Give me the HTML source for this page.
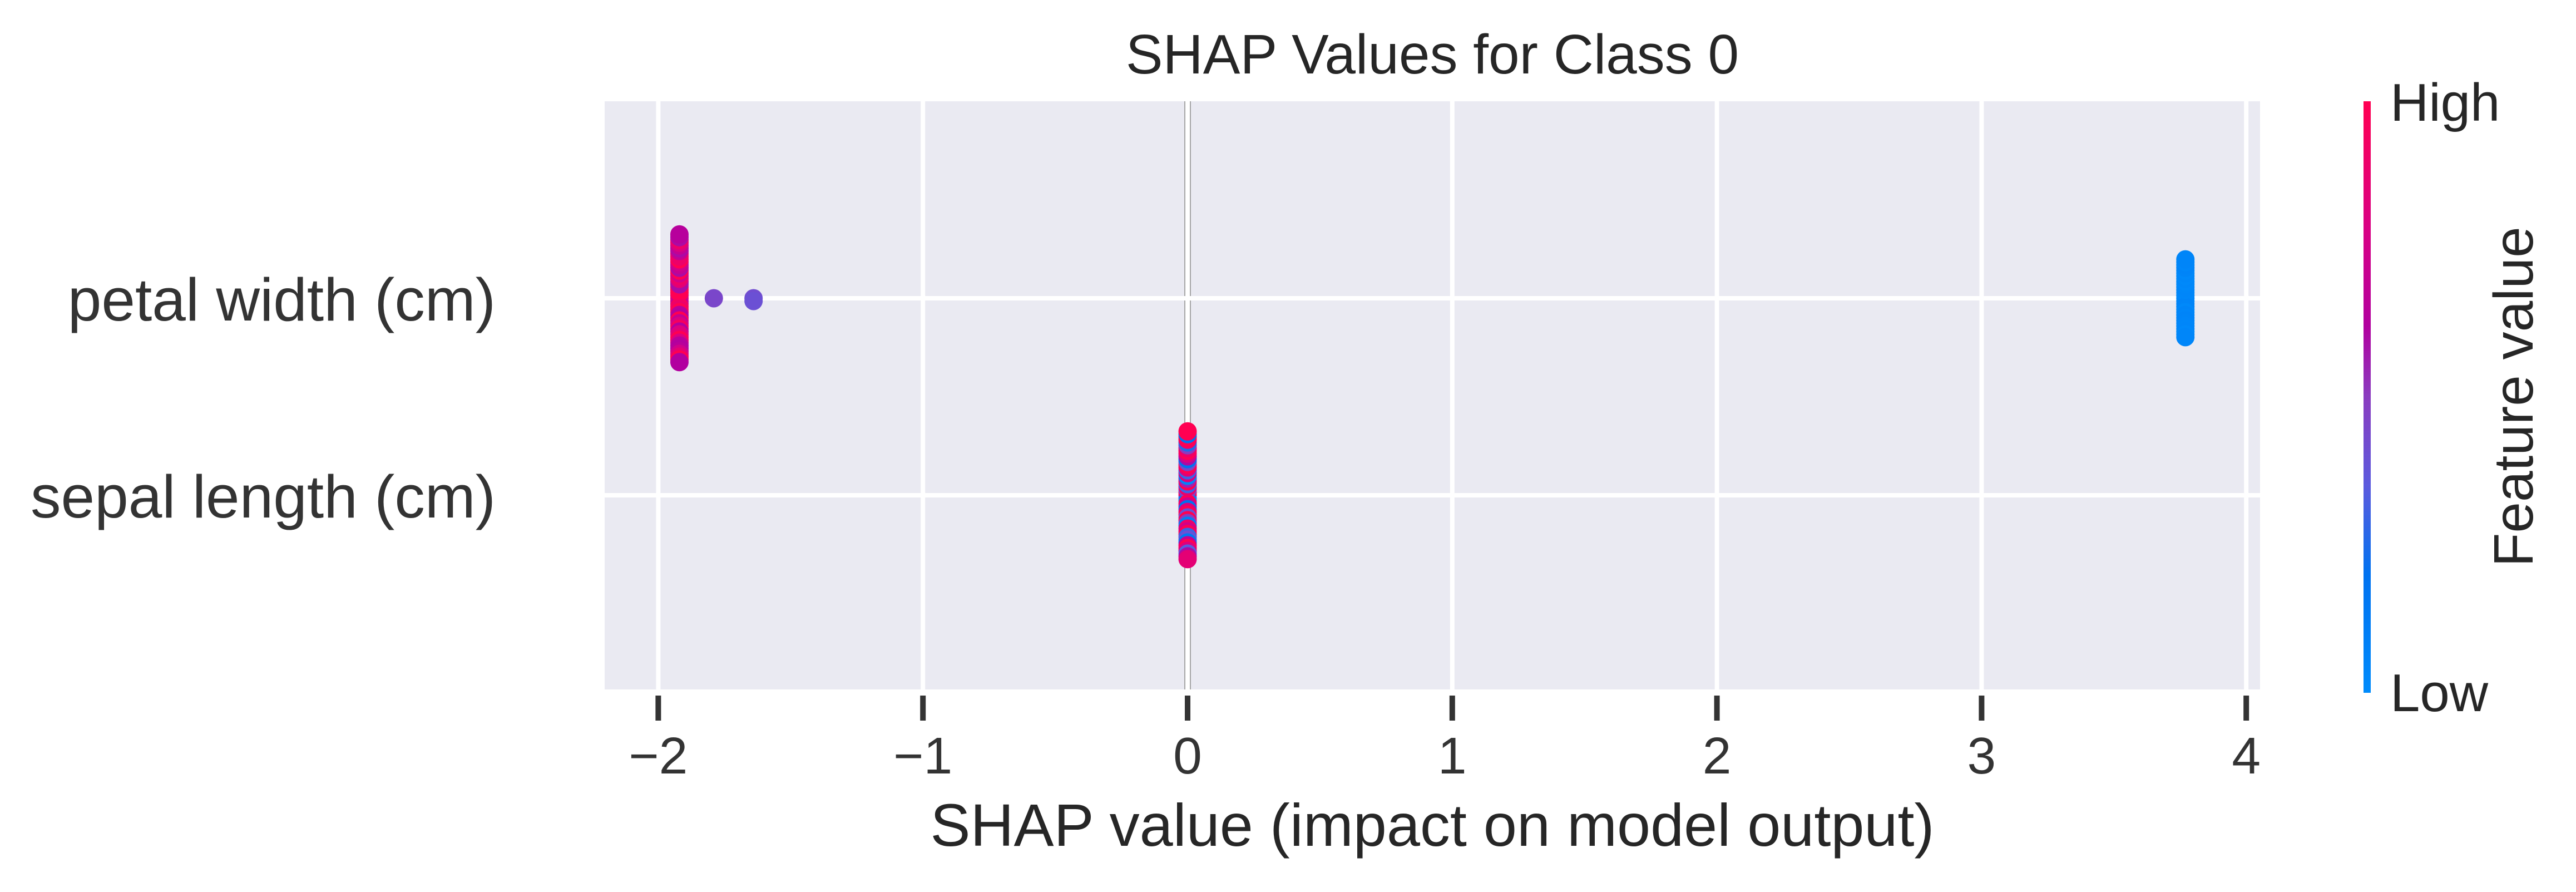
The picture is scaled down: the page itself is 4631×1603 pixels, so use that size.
<!DOCTYPE html>
<html><head><meta charset="utf-8">
<style>
html,body{margin:0;padding:0;background:#fff;}
svg{display:block;font-family:"Liberation Sans",Arial,sans-serif;}
</style></head>
<body>
<svg id="chart" width="4631" height="1603" viewBox="0 0 4631 1603" xmlns="http://www.w3.org/2000/svg">
<defs>
<linearGradient id="cbar" x1="0" y1="1" x2="0" y2="0">
<stop offset="0" stop-color="#008bfb"/>
<stop offset="0.2" stop-color="#0072f0"/>
<stop offset="0.35" stop-color="#5b5ade"/>
<stop offset="0.5" stop-color="#8a3cc0"/>
<stop offset="0.62" stop-color="#b2009f"/>
<stop offset="0.78" stop-color="#d80085"/>
<stop offset="1" stop-color="#ff0052"/>
</linearGradient>
</defs>
<text x="2575" y="132" text-anchor="middle" font-size="100" fill="#262626">SHAP Values for Class 0</text>
<rect x="1087" y="182" width="2976" height="1057" fill="#eaeaf2"/>
<g id="grid"></g>
<g id="dots"></g>
<g id="axes"></g>
<rect x="4249" y="182" width="13" height="1063" fill="url(#cbar)"/>
<text x="4297" y="217" font-size="96" fill="#262626">High</text>
<text x="4297" y="1278" font-size="96" fill="#262626">Low</text>
<text transform="translate(4553,713) rotate(-90)" text-anchor="middle" font-size="100" fill="#262626">Feature value</text>
<text x="2575" y="1520" text-anchor="middle" font-size="108" fill="#262626">SHAP value (impact on model output)</text>
</svg>
<script>
// ---- data ----
const features = ["sepal length (cm)", "petal width (cm)"]; // row 0 bottom, row 1 top
const xTicks = [-2, -1, 0, 1, 2, 3, 4];
const xTickLabels = ["\u22122", "\u22121", "0", "1", "2", "3", "4"];
const petalShap = [-1.92,-1.92,-1.92,-1.92,-1.92,-1.92,-1.92,-1.92,-1.92,-1.92,-1.92,-1.92,-1.92,-1.92,-1.92,-1.92,-1.92,-1.92,-1.92,-1.92,-1.92,-1.92,-1.92,-1.92,-1.92,-1.92,-1.92,-1.92,-1.92,-1.92,-1.92,-1.92,-1.92,-1.92,-1.92,-1.92,-1.92,-1.92,-1.92,-1.92,-1.92,-1.92,-1.92,-1.92,-1.92,-1.92,-1.92,
 -1.79, -1.64,-1.64,
 3.77,3.77,3.77,3.77,3.77,3.77,3.77,3.77,3.77,3.77,3.77,3.77,3.77,3.77,3.77,3.77,3.77,3.77,3.77,3.77,3.77,3.77,3.77,3.77,3.77,3.77,3.77,3.77,3.77];
const petalValue = [1,0.8,0.75,0.7,1,0.95,1,0.9,1,1,0.6,0.65,0.6,0.62,0.85,1,0.9,0.7,0.75,0.8,1,0.95,0.6,0.62,0.7,0.8,0.75,0.85,1,1,0.9,0.8,0.9,0.65,0.7,0.62,0.6,0.65,0.7,0.75,0.8,0.85,0.9,1,0.6,0.62,0.64,
 0.45, 0.42,0.4,
 0.02,0.03,0.05,0.04,0.02,0.06,0.03,0.05,0.04,0.02,0.03,0.05,0.02,0.04,0.03,0.06,0.02,0.05,0.03,0.04,0.02,0.03,0.05,0.04,0.06,0.02,0.03,0.04,0.05];
const sepalShap = [0,0,0,0,0,0,0,0,0,0,0,0,0,0,0,0,0,0,0,0,0,0,0,0,0,0,0,0,0,0,0,0,0,0,0,0,0,0,0,0,0,0,0,0,0,0,0];
const sepalValue = [0.8,0.3,1,0.1,0.45,1,0.9,0.75,0.3,0.2,1,0.8,0.55,1,0.05,0.4,0.8,1,0.3,0.5,0.85,0.1,1,0.9,0.45,0.75,0.2,1,0.6,0.3,0.8,0.4,1,0.15,0.9,0.7,0.5,1,0.25,0.8,0.95,0.35,1,0.6,0.2,0.85,1];

// ---- scales ----
const X0 = 2135, XU = 475.8;
function sx(v){ return X0 + v * XU; }
function sy(v){ return 890 - v * 354; }
const NS = "http://www.w3.org/2000/svg";
function mk(tag, attrs, parent){ const e=document.createElementNS(NS,tag); for(const k in attrs) e.setAttribute(k,attrs[k]); parent.appendChild(e); return e; }
const stops = [[0,[0,139,251]],[0.2,[0,114,240]],[0.35,[91,90,222]],[0.5,[138,60,192]],[0.62,[178,0,159]],[0.78,[216,0,133]],[1,[255,0,82]]];
function cmap(t){ for(let i=1;i<stops.length;i++){ if(t<=stops[i][0]){ const a=stops[i-1],b=stops[i]; const f=(t-a[0])/(b[0]-a[0]); const c=a[1].map((v,j)=>Math.round(v+(b[1][j]-v)*f)); return `rgb(${c[0]},${c[1]},${c[2]})`; } } return "rgb(255,0,82)"; }

const grid = document.getElementById('grid');
const axes = document.getElementById('axes');
const dots = document.getElementById('dots');
const zl = mk('line',{x1:sx(0),x2:sx(0),y1:182,y2:1239,stroke:'#a6a6a6','stroke-width':12},grid);


xTicks.forEach((t,i)=>{
  const g = mk('line',{x1:sx(t),x2:sx(t),y1:182,y2:1239,stroke:'#fff','stroke-width':8},grid);
  
  
  const tk = mk('line',{x1:sx(t),x2:sx(t),y1:1250,y2:1295,stroke:'#333','stroke-width':10},axes);
  
  
  const lb = mk('text',{x:sx(t),y:1390,'text-anchor':'middle','font-size':93,fill:'#333'},axes);
  lb.textContent = xTickLabels[i];
  
  
});
features.forEach((f,r)=>{
  const g = mk('line',{x1:1087,x2:4063,y1:sy(r),y2:sy(r),stroke:'#fff','stroke-width':8},grid);
  
  
  const lb = mk('text',{x:891,y:sy(r)+40,'text-anchor':'end','font-size':109,fill:'#333'},axes);
  lb.textContent = f;
  
  
});
function drawRow(shap, vals, row){
  const groups = {};
  shap.forEach((v,i)=>{ const k=v.toFixed(2); (groups[k]=groups[k]||[]).push(i); });
  Object.keys(groups).forEach(k=>{
    groups[k].forEach((idx,j)=>{
      const layer = Math.ceil(j/2), sign = (j%2===1)?-1:1;
      const off = sign*layer*0.0141;
      const c = mk('circle',{cx:sx(shap[idx]),cy:sy(row+off),r:16.5,fill:cmap(vals[idx])},dots);
      
      
    });
  });
}
drawRow(sepalShap, sepalValue, 0);
drawRow(petalShap, petalValue, 1);
</script>
</body></html>
